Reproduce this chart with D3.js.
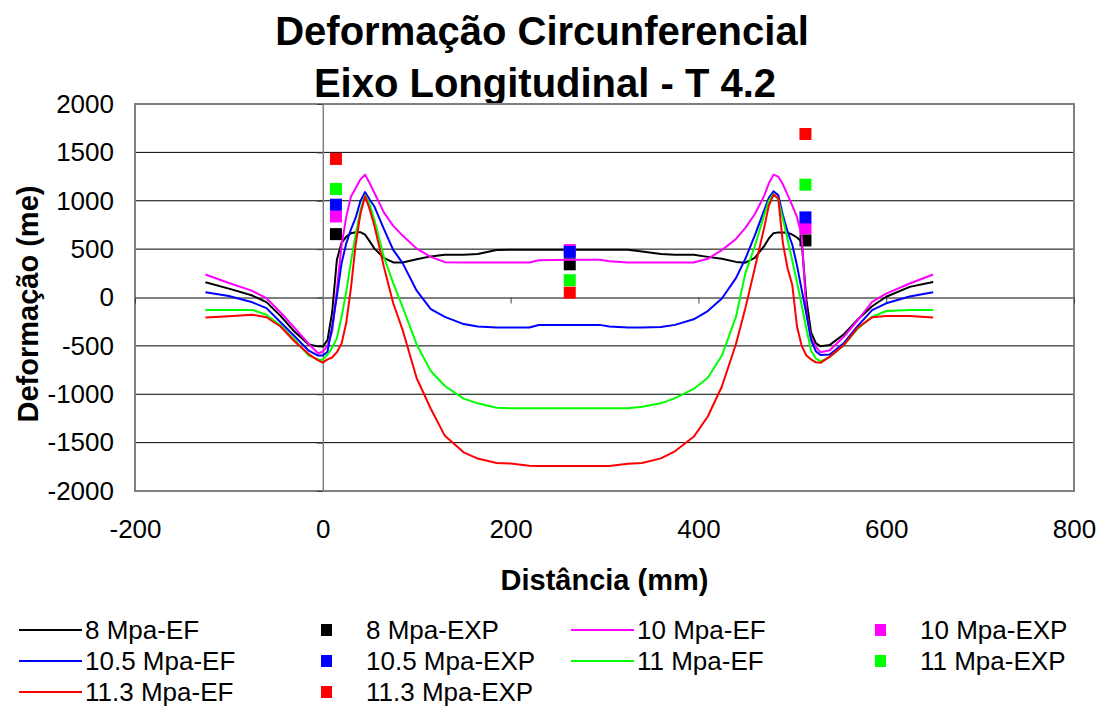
<!DOCTYPE html>
<html>
<head>
<meta charset="utf-8">
<script src="https://cdn.jsdelivr.net/npm/d3@7"></script>
<style>
  html, body { margin: 0; padding: 0; background: #fff; }
  svg { display: block; }
  text { font-family: "Liberation Sans", Arial, sans-serif; fill: #000; }
</style>
</head>
<body>
<svg id="chart" width="1099" height="706"></svg>
<script>
// Distance along the longitudinal axis (mm) for the finite element nodes
const distance = [-125,-100,-75,-60,-45,-30,-15,-5,0,5,10,15,20,25,30,35,40,45,50,55,65,75,85,100,115,130,150,165,185,200,220,230,
  262.5,
  295,305,325,340,360,375,395,410,425,440,450,460,470,475,480,485,490,495,500,505,510,515,520,525,530,540,555,570,585,600,625,650];

// Circumferential strain from the FE model, one array per pressure
const ef8 = [158,92,20,-48,-190,-355,-485,-505,-507,-440,-150,390,565,630,665,675,675,650,580,505,410,362,362,395,425,441,441,450,490,493,493,493,
  493,
  493,493,493,475,450,441,441,420,400,368,360,410,530,610,665,673,673,670,650,620,575,-20,-360,-470,-505,-490,-380,-225,-90,8,110,160];
const ef10 = [238,150,68,-7,-155,-315,-480,-576,-560,-500,-350,79,541,834,1045,1130,1220,1270,1180,1080,880,740,640,505,420,365,362,362,362,362,362,385,
  390,
  390,375,362,362,362,362,362,400,490,605,720,860,1050,1180,1270,1250,1170,1060,950,830,640,-150,-420,-510,-565,-545,-404,-230,-45,40,145,238];
const ef105 = [55,15,-50,-110,-255,-400,-550,-600,-600,-560,-300,15,355,560,705,825,995,1090,1010,940,710,493,355,70,-120,-200,-275,-300,-311,-311,-311,-285,
  -283,
  -283,-300,-311,-311,-305,-283,-225,-140,-10,200,400,640,900,1030,1097,1060,850,680,545,330,80,-170,-440,-555,-595,-590,-470,-290,-130,-60,10,55];
const ef11 = [-128,-128,-128,-179,-290,-435,-600,-640,-645,-590,-520,-420,-200,60,370,650,900,1060,960,800,420,148,-100,-485,-760,-915,-1045,-1094,-1140,-1145,-1145,-1145,
  -1145,
  -1145,-1145,-1145,-1130,-1094,-1040,-945,-830,-600,-200,250,530,850,1000,1073,1011,810,600,380,160,-80,-320,-550,-630,-660,-615,-490,-320,-200,-140,-128,-128];
const ef113 = [-207,-195,-179,-204,-300,-455,-585,-650,-673,-640,-620,-565,-475,-260,100,550,860,1050,910,740,320,-59,-335,-835,-1150,-1430,-1600,-1665,-1710,-1715,-1740,-1742,
  -1742,
  -1742,-1742,-1718,-1710,-1663,-1590,-1440,-1230,-920,-480,-110,300,720,950,1063,1028,560,300,130,-300,-500,-600,-640,-670,-675,-611,-490,-310,-205,-190,-190,-207];

// Experimental strain gauge readings
const expDistance = [14, 263, 514];
const exp8 = [655, 343, 590];
const exp10 = [838, 490, 718];
const exp105 = [959, 471, 828];
const exp11 = [1121, 179, 1166];
const exp113 = [1432, 50, 1690];

// Axis ticks
const xTicks = [-200, 0, 200, 400, 600, 800];
const yTicks = [-2000, -1500, -1000, -500, 0, 500, 1000, 1500, 2000];

// Series in legend order
const seriesNames = ["8 Mpa-EF", "8 Mpa-EXP", "10 Mpa-EF", "10 Mpa-EXP", "10.5 Mpa-EF", "10.5 Mpa-EXP",
  "11 Mpa-EF", "11 Mpa-EXP", "11.3 Mpa-EF", "11.3 Mpa-EXP"];
const seriesColors = ["#000000", "#000000", "#ff00ff", "#ff00ff", "#0000ff", "#0000ff",
  "#00ff00", "#00ff00", "#ff0000", "#ff0000"];
const seriesValues = [ef8, exp8, ef10, exp10, ef105, exp105, ef11, exp11, ef113, exp113];

const svg = d3.select("#chart");
const plot = { left: 135, right: 1074, top: 104, bottom: 491 };

const x = d3.scaleLinear().domain([-200, 800]).range([plot.left, plot.right]);
const y = d3.scaleLinear().domain([-2000, 2000]).range([plot.bottom, plot.top]);

// plain hyphen for negative numbers
const plainNumber = d => String(d);

svg.append("rect").attr("width", 1099).attr("height", 706).attr("fill", "#fff");

// Title
const title = svg.append("text")
  .attr("text-anchor", "middle")
  .attr("font-weight", "bold")
  .attr("font-size", 40);
title.append("tspan").attr("x", 542).attr("y", 45).text("Deformação Circunferencial");
title.append("tspan").attr("x", 545).attr("y", 97).text("Eixo Longitudinal - T 4.2");

// Horizontal gridlines
svg.append("g")
  .selectAll("line")
  .data(yTicks.filter(v => v !== 2000 && v !== -2000 && v !== 0))
  .join("line")
  .attr("x1", plot.left).attr("x2", plot.right)
  .attr("y1", d => y(d)).attr("y2", d => y(d))
  .attr("stroke", "#000").attr("stroke-width", 1);

// Plot frame
svg.append("rect")
  .attr("x", plot.left).attr("y", plot.top)
  .attr("width", plot.right - plot.left).attr("height", plot.bottom - plot.top)
  .attr("fill", "none").attr("stroke", "#808080").attr("stroke-width", 2);

// Axes crossing at the origin
const xAxisAtZero = svg.append("g")
  .attr("transform", `translate(0,${y(0)})`)
  .call(d3.axisBottom(x).tickValues(xTicks).tickSize(6).tickSizeOuter(0).tickFormat(""));
xAxisAtZero.select(".domain").attr("stroke", "#808080").attr("stroke-width", 2);
xAxisAtZero.selectAll(".tick line").attr("stroke", "#404040");

const yAxisAtZero = svg.append("g")
  .attr("transform", `translate(${x(0)},0)`)
  .call(d3.axisLeft(y).tickValues(yTicks).tickSize(6).tickSizeOuter(0).tickFormat(""));
yAxisAtZero.select(".domain").attr("stroke", "#808080").attr("stroke-width", 1.5);
yAxisAtZero.selectAll(".tick line").attr("stroke", "#404040");

// Tick labels along the frame
const xLabels = svg.append("g")
  .attr("transform", `translate(0,${plot.bottom})`)
  .call(d3.axisBottom(x).tickValues(xTicks).tickSize(0).tickPadding(29).tickFormat(plainNumber));
xLabels.select(".domain").remove();
xLabels.selectAll("text").attr("font-size", 26).attr("font-family", "Liberation Sans, Arial, sans-serif");

const yLabels = svg.append("g")
  .attr("transform", `translate(${plot.left},0)`)
  .call(d3.axisLeft(y).tickValues(yTicks).tickSize(0).tickPadding(21).tickFormat(plainNumber));
yLabels.select(".domain").remove();
yLabels.selectAll("text").attr("font-size", 26).attr("font-family", "Liberation Sans, Arial, sans-serif");

// Axis titles
svg.append("text")
  .attr("x", (plot.left + plot.right) / 2).attr("y", 590)
  .attr("text-anchor", "middle").attr("font-weight", "bold").attr("font-size", 29)
  .text("Distância (mm)");
svg.append("text")
  .attr("transform", "translate(38,304) rotate(-90)")
  .attr("text-anchor", "middle").attr("font-weight", "bold").attr("font-size", 29)
  .text("Deformação (me)");

// Series
const line = d3.line().x((d, i) => x(distance[i])).y(d => y(d));
const markerSize = 12;
const seriesLayer = svg.append("g");
seriesValues.forEach((vals, k) => {
  if (k % 2 === 0) {
    seriesLayer.append("path")
      .datum(vals)
      .attr("d", line)
      .attr("fill", "none")
      .attr("stroke", seriesColors[k])
      .attr("stroke-width", 2)
      .attr("stroke-linejoin", "round");
  } else {
    seriesLayer.append("g")
      .selectAll("rect")
      .data(vals)
      .join("rect")
      .attr("x", (d, i) => x(expDistance[i]) - markerSize / 2)
      .attr("y", d => y(d) - markerSize / 2)
      .attr("width", markerSize).attr("height", markerSize)
      .attr("fill", seriesColors[k]);
  }
});

// Legend: four columns, filled row by row
const legendCols = [19, 326, 571, 880];
const legendRows = [630, 661, 692];
const legend = svg.append("g");
seriesNames.forEach((name, k) => {
  const col = k % 4, row = Math.floor(k / 4);
  const cx = legendCols[col], cy = legendRows[row];
  const g = legend.append("g");
  if (k % 2 === 0) {
    g.append("line")
      .attr("x1", cx).attr("x2", cx + 63)
      .attr("y1", cy).attr("y2", cy)
      .attr("stroke", seriesColors[k]).attr("stroke-width", 2);
    g.append("text").attr("x", cx + 66).attr("y", cy + 9).attr("font-size", 26).text(name);
  } else {
    g.append("rect")
      .attr("x", cx - 5).attr("y", cy - 6)
      .attr("width", 11).attr("height", 12)
      .attr("fill", seriesColors[k]);
    g.append("text").attr("x", cx + 40).attr("y", cy + 9).attr("font-size", 26).text(name);
  }
});
</script>
</body>
</html>
